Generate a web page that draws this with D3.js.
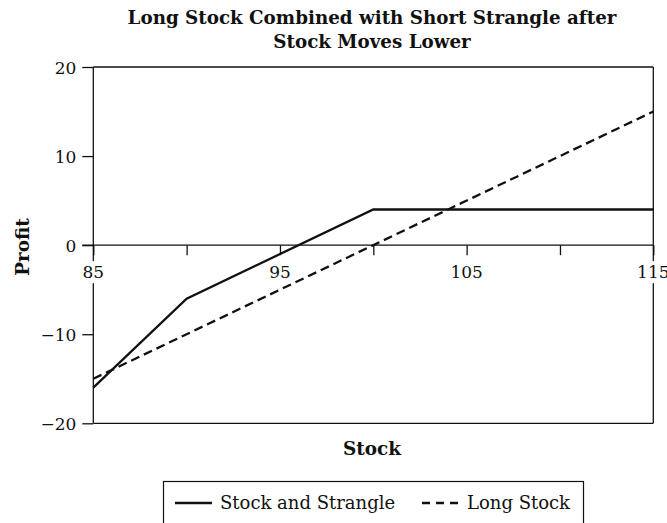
<!DOCTYPE html>
<html><head><meta charset="utf-8">
<script src="https://cdn.jsdelivr.net/npm/d3@7"></script>
<style>body{margin:0;background:#fff}svg{display:block}text{font-family:"DejaVu Serif","Liberation Serif",serif;fill:#111}</style>
</head><body><svg id="c" width="667" height="523"></svg>
<script>
const titleLines = ["Long Stock Combined with Short Strangle after", "Stock Moves Lower"];
const xTicks = [85, 90, 95, 100, 105, 110, 115];
const xLabels = [85, 95, 105, 115];
const yTicks = [-20, -10, 0, 10, 20];
const strangleX = [85, 90, 100, 115];
const strangleY = [-16, -6, 4, 4];
const longX = [85, 115];
const longY = [-15, 15];
const seriesNames = ["Stock and Strangle", "Long Stock"];

const svg = d3.select("#c");
const L = 93.3, R = 653.3, T = 67, B = 423.3;
const x = d3.scaleLinear().domain([85, 115]).range([L, R]);
const y = d3.scaleLinear().domain([-20, 20]).range([B, T]);
const ink = "#111";

// title
svg.append("text").attr("text-anchor", "middle")
  .style("font-weight", "bold").style("font-size", "18.3px")
  .selectAll("tspan").data(titleLines).join("tspan")
  .attr("x", 372).attr("y", (d, i) => 24 + i * 24).text(d => d);

// frame
[[L, T, R, T], [L, B, R, B], [R, T, R, B], [L, T, L, B]].forEach(s =>
  svg.append("line").attr("x1", s[0]).attr("y1", s[1]).attr("x2", s[2]).attr("y2", s[3])
    .attr("stroke", ink).attr("stroke-width", 1.3));

// y axis ticks
const yAxis = d3.axisLeft(y).tickValues(yTicks).tickSize(11).tickSizeOuter(0)
  .tickFormat(d => d < 0 ? "\u2212" + Math.abs(d) : d);
const gy = svg.append("g").attr("transform", `translate(${L},0)`).call(yAxis);
gy.select(".domain").remove();
gy.selectAll("line").attr("stroke", ink).attr("stroke-width", 1.3);
gy.selectAll("text").style("font-size", "17px").attr("x", -17).attr("dy", "0.36em").attr("fill", ink);

// x axis at zero
const y0 = y(0);
svg.append("line").attr("x1", L - 11).attr("x2", R).attr("y1", y0).attr("y2", y0).attr("stroke", ink).attr("stroke-width", 1.3);
const xAxis = d3.axisBottom(x).tickValues(xTicks).tickSize(10).tickSizeOuter(0).tickFormat("");
const gx = svg.append("g").attr("transform", `translate(0,${y0})`).call(xAxis);
gx.select(".domain").remove();
gx.selectAll("line").attr("stroke", ink).attr("stroke-width", 1.3);
const lab = svg.append("g");
xLabels.forEach(v => {
  const t = lab.append("text").attr("x", x(v)).attr("y", y0 + 33).attr("text-anchor", "middle")
    .style("font-size", "17px").text(v);
  const bb = t.node().getBBox();
  lab.insert("rect", "text").attr("x", bb.x - 1).attr("y", bb.y - 1).attr("width", bb.width + 2).attr("height", bb.height + 2).attr("fill", "#fff");
});

// series
const line = d3.line().x(d => x(d[0])).y(d => y(d[1]));
svg.append("path").datum(longX.map((v, i) => [v, longY[i]])).attr("d", line)
  .attr("fill", "none").attr("stroke", ink).attr("stroke-width", 2.3).attr("stroke-dasharray", "9,5");
svg.append("path").datum(strangleX.map((v, i) => [v, strangleY[i]])).attr("d", line)
  .attr("fill", "none").attr("stroke", ink).attr("stroke-width", 2.3);

// axis titles
svg.append("text").attr("x", 372).attr("y", 455).attr("text-anchor", "middle")
  .style("font-weight", "bold").style("font-size", "18.4px").text("Stock");
svg.append("text").attr("transform", `translate(29,247) rotate(-90)`).attr("text-anchor", "middle")
  .style("font-weight", "bold").style("font-size", "18.4px").text("Profit");

// legend
svg.append("rect").attr("x", 163.5).attr("y", 481.5).attr("width", 420).attr("height", 45)
  .attr("fill", "none").attr("stroke", ink).attr("stroke-width", 1.2);
svg.append("line").attr("x1", 175).attr("x2", 212).attr("y1", 503).attr("y2", 503).attr("stroke", ink).attr("stroke-width", 2.3);
svg.append("text").attr("x", 220).attr("y", 509).style("font-size", "18px").text(seriesNames[0]);
svg.append("line").attr("x1", 422).attr("x2", 458).attr("y1", 503).attr("y2", 503).attr("stroke", ink).attr("stroke-width", 2.3).attr("stroke-dasharray", "8,6");
svg.append("text").attr("x", 467).attr("y", 509).style("font-size", "18px").text(seriesNames[1]);
</script></body></html>
